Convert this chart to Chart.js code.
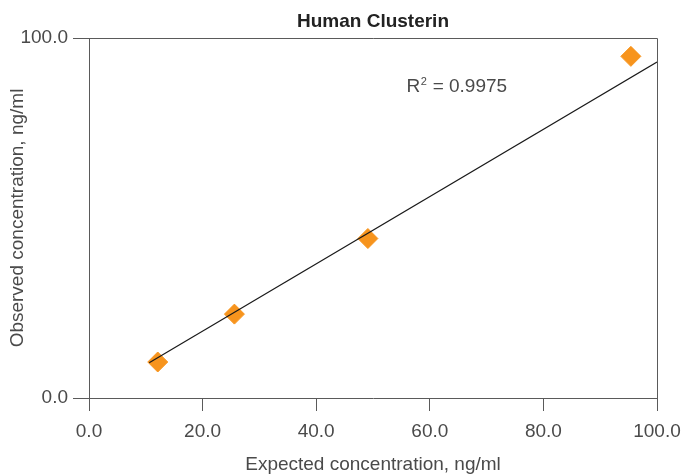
<!DOCTYPE html>
<html>
<head>
<meta charset="utf-8">
<script src="https://cdn.jsdelivr.net/npm/chart.js@4.4.1/dist/chart.umd.min.js"></script>
<style>
  html, body { margin: 0; padding: 0; background: #ffffff; }
  #wrap { width: 699px; height: 474px; position: relative; }
</style>
</head>
<body>
<div id="wrap"><canvas id="c" width="699" height="474"></canvas></div>
<script>
// ---- data ----
const chartTitle = "Human Clusterin";
const xAxisTitle = "Expected concentration, ng/ml";
const yAxisTitle = "Observed concentration, ng/ml";
const expected = [12.1, 25.6, 49.1, 95.4];
const observed = [10.0, 23.3, 44.3, 94.9];
const trendX = [10.6, 100.0];
const trendY = [9.8, 93.3];
const rLabelX = 55.9;   // data position of annotation (left edge)
const rLabelY = 86.5;
const xTickValues = [0, 20, 40, 60, 80, 100];
const yTickValues = [0, 100];

const FONT = "'Liberation Sans', Arial, Helvetica, sans-serif";
const TEXT = "#4a4a4a";
const AXIS = "#5a5a5a";
const FS = 19;

const points = expected.map((x, i) => ({ x: x, y: observed[i] }));
const trend = trendX.map((x, i) => ({ x: x, y: trendY[i] }));

const frame = {
  id: 'frame',
  beforeDatasetsDraw(chart) {
    const a = chart.chartArea, ctx = chart.ctx;
    ctx.save();
    ctx.strokeStyle = AXIS;
    ctx.lineWidth = 1;
    ctx.beginPath();
    ctx.moveTo(a.left, a.top + 0.5);
    ctx.lineTo(a.right + 0.5, a.top + 0.5);
    ctx.lineTo(a.right + 0.5, a.bottom);
    ctx.stroke();
    ctx.restore();
  },
  afterDatasetsDraw(chart) {
    const ctx = chart.ctx;
    const xs = chart.scales.x, ys = chart.scales.y;
    const px = xs.getPixelForValue(rLabelX), py = ys.getPixelForValue(rLabelY);
    ctx.save();
    ctx.fillStyle = TEXT;
    ctx.textBaseline = 'middle';
    ctx.textAlign = 'left';
    ctx.font = FS + "px " + FONT;
    ctx.fillText("R", px, py);
    const w = ctx.measureText("R").width;
    ctx.font = "11px " + FONT;
    ctx.fillText("2", px + w + 0.5, py - 5);
    const w2 = ctx.measureText("2").width;
    ctx.font = FS + "px " + FONT;
    ctx.fillText(" = 0.9975", px + w + w2 + 1, py);
    ctx.restore();
  }
};

new Chart(document.getElementById('c'), {
  type: 'scatter',
  data: {
    datasets: [
      {
        label: 'trend',
        data: trend,
        showLine: true,
        borderColor: '#1a1a1a',
        borderWidth: 1.2,
        pointRadius: 0,
        fill: false,
        order: 0
      },
      {
        label: 'points',
        data: points,
        pointStyle: 'rectRot',
        pointRadius: 10,
        pointHoverRadius: 10,
        backgroundColor: '#F7941D',
        borderColor: '#F7941D',
        borderWidth: 1,
        order: 1
      }
    ]
  },
  options: {
    responsive: false,
    animation: false,
    devicePixelRatio: 1,
    layout: { padding: { left: 0, right: 42, top: 0, bottom: 0 } },
    plugins: {
      legend: { display: false },
      tooltip: { enabled: false },
      title: {
        display: true,
        text: chartTitle,
        fullSize: false,
        color: '#222222',
        font: { family: FONT, size: FS, weight: 'bold', lineHeight: 1.2 },
        padding: { top: 10, bottom: 5.2 }
      }
    },
    scales: {
      x: {
        type: 'linear',
        min: 0, max: 100,
        afterBuildTicks(scale) { scale.ticks = xTickValues.map(v => ({ value: v })); },
        afterFit(scale) { scale.height = 76; },
        ticks: {
          color: TEXT,
          padding: 9,
          font: { family: FONT, size: FS },
          callback: v => Number(v).toFixed(1),
          maxRotation: 0
        },
        grid: { display: true, drawOnChartArea: false, drawTicks: true, tickLength: 13, color: AXIS, lineWidth: 1 },
        border: { display: true, color: AXIS, width: 1 },
        title: {
          display: true,
          text: xAxisTitle,
          color: TEXT,
          font: { family: FONT, size: FS, lineHeight: 1.0 },
          padding: { top: 0, bottom: 0 }
        }
      },
      y: {
        type: 'linear',
        min: 0, max: 100,
        afterBuildTicks(scale) { scale.ticks = yTickValues.map(v => ({ value: v })); },
        afterFit(scale) { scale.width = 89; },
        ticks: {
          color: TEXT,
          padding: 5,
          font: { family: FONT, size: FS },
          callback: v => Number(v).toFixed(1)
        },
        grid: { display: true, drawOnChartArea: false, drawTicks: true, tickLength: 16, color: AXIS, lineWidth: 1 },
        border: { display: true, color: AXIS, width: 1 },
        title: {
          display: true,
          text: yAxisTitle,
          color: TEXT,
          font: { family: FONT, size: FS },
          padding: { top: 6, bottom: 0 }
        }
      }
    }
  },
  plugins: [frame]
});
</script>
</body>
</html>
